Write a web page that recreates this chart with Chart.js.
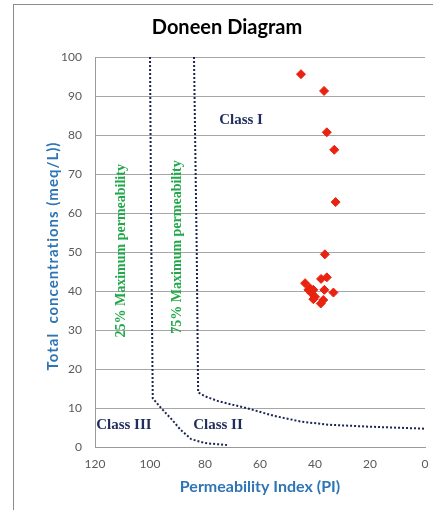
<!DOCTYPE html>
<html>
<head>
<meta charset="utf-8">
<script src="https://cdn.jsdelivr.net/npm/chart.js@4"></script>
<style>
  html, body { margin: 0; padding: 0; background: #fff; overflow: hidden; }
  #wrap { position: relative; width: 433px; height: 510px; }
  #frame { position: absolute; left: 13px; top: 4px; width: 440px; height: 520px; border: 1px solid #8c8c8c; }
  canvas { position: absolute; left: 0; top: 0; }
</style>
</head>
<body>
<div id="wrap">
  <div id="frame"></div>
  <canvas id="doneenChart" width="433" height="510"></canvas>
</div>
<script>
// samples: permeability index (PI) and total concentration (meq/L)
var piValues = [45.1, 36.7, 35.7, 33.0, 32.5, 36.4, 37.8, 35.7, 43.6, 41.8, 40.6, 41.2, 40.0, 40.6, 36.6, 33.3, 37.0, 37.9, 42.4];
var totalConc = [95.6, 91.3, 80.7, 76.2, 62.8, 49.4, 43.1, 43.5, 42.0, 40.7, 40.3, 39.4, 38.5, 37.9, 40.3, 39.6, 37.7, 36.8, 40.3];

// class boundaries (25% and 75% maximum permeability)
var line25PI = [100, 99.5, 99, 96, 92, 89, 85, 80, 72];
var line25Conc = [100, 50, 12.5, 10, 7, 4.5, 2, 1, 0.5];
var line75PI = [84, 83, 82.5, 80, 75, 65, 55, 45, 35, 20, 0];
var line75Conc = [100, 50, 14, 13, 11.7, 10, 8, 6.5, 5.7, 5.2, 4.7];

var xTicks = [0, 20, 40, 60, 80, 100, 120];
var yTicks = [0, 10, 20, 30, 40, 50, 60, 70, 80, 90, 100];

function toPoints(xs, ys) {
    return xs.map(function (x, i) { return { x: x, y: ys[i] }; });
}

var textPlugin = {
    id: 'doneenText',
    afterDatasetsDraw: function (chart) {
        var ctx = chart.ctx;
        var xs = chart.scales.x, ys = chart.scales.y;
        var area = chart.chartArea;
        ctx.save();
        ctx.textAlign = 'center';
        ctx.textBaseline = 'middle';

        // chart title
        ctx.fillStyle = '#000';
        ctx.font = 'bold 20px Lato';
        ctx.fillText('Doneen Diagram', 227, 28);

        // x axis title
        ctx.fillStyle = '#2e75b6';
        ctx.font = 'bold 16px Lato';
        ctx.fillText('Permeability Index (PI)', (area.left + area.right) / 2, 487);

        // y axis title
        ctx.save();
        ctx.font = 'bold 15px Lato';
        ctx.letterSpacing = '1px';
        ctx.translate(53, (area.top + area.bottom) / 2 + 4);
        ctx.rotate(-Math.PI / 2);
        ctx.fillText('Total  concentrations (meq/L))', 0, 0);
        ctx.restore();

        // class labels
        ctx.fillStyle = '#1f2d5c';
        ctx.font = 'bold 15px "Liberation Serif"';
        ctx.fillText('Class I', xs.getPixelForValue(66.9), ys.getPixelForValue(83.8));
        ctx.fillText('Class II', xs.getPixelForValue(75.3), ys.getPixelForValue(5.6));
        ctx.fillText('Class III', xs.getPixelForValue(109.5), ys.getPixelForValue(5.6));

        // boundary labels
        ctx.fillStyle = '#22a84a';
        ctx.font = 'bold 14px "Liberation Serif"';
        [['25% Maximum permeability', 110.5, 50.3], ['75% Maximum permeability', 90.2, 51.3]].forEach(function (t) {
            ctx.save();
            ctx.translate(xs.getPixelForValue(t[1]), ys.getPixelForValue(t[2]));
            ctx.rotate(-Math.PI / 2);
            ctx.fillText(t[0], 0, 0);
            ctx.restore();
        });
        ctx.restore();
    }
};

var ctx = document.getElementById('doneenChart').getContext('2d');
var myChart = new Chart(ctx, {
    type: 'scatter',
    data: {
        datasets: [{
            label: 'Samples',
            data: toPoints(piValues, totalConc),
            pointStyle: 'rectRot',
            pointRadius: 4.5,
            backgroundColor: '#e8230f',
            borderColor: '#e8230f',
            order: 0
        }, {
            label: '25%',
            data: toPoints(line25PI, line25Conc),
            showLine: true,
            pointRadius: 0,
            borderColor: '#1b2555',
            borderWidth: 2,
            borderDash: [2, 2],
            order: 1
        }, {
            label: '75%',
            data: toPoints(line75PI, line75Conc),
            showLine: true,
            pointRadius: 0,
            borderColor: '#1b2555',
            borderWidth: 2,
            borderDash: [2, 2],
            order: 1
        }]
    },
    options: {
        responsive: false,
        animation: false,
        layout: { padding: { top: 57, right: 8, left: 0, bottom: 0 } },
        plugins: {
            legend: { display: false },
            tooltip: { enabled: false }
        },
        scales: {
            x: {
                type: 'linear',
                reverse: true,
                min: 0,
                max: 120,
                afterBuildTicks: function (scale) {
                    scale.ticks = xTicks.map(function (v) { return { value: v }; });
                },
                afterFit: function (scale) { scale.height = 63; },
                grid: { display: false, drawTicks: false },
                border: { display: true, color: '#9a9a9a', width: 1 },
                ticks: { padding: 10, color: '#595959', font: { family: 'Lato', size: 12 }, maxRotation: 0 }
            },
            y: {
                min: 0,
                max: 100,
                afterBuildTicks: function (scale) {
                    scale.ticks = yTicks.map(function (v) { return { value: v }; });
                },
                afterFit: function (scale) { scale.width = 95; },
                grid: { color: '#a6a6a6', lineWidth: 1, drawTicks: false },
                border: { display: true, color: '#9a9a9a', width: 1 },
                ticks: { padding: 13, color: '#595959', font: { family: 'Lato', size: 12 } }
            }
        }
    },
    plugins: [textPlugin]
});
</script>
</body>
</html>
